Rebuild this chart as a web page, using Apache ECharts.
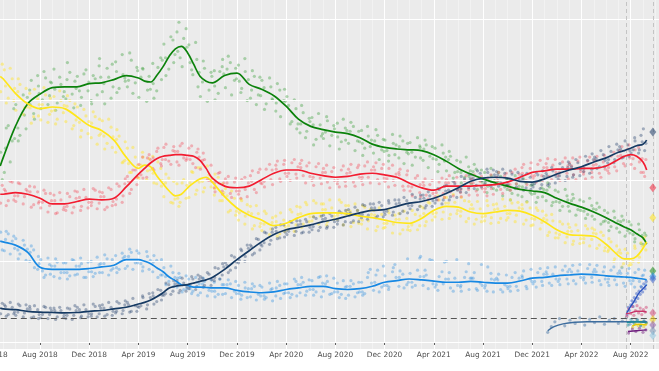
<!DOCTYPE html>
<html><head><meta charset="utf-8">
<script src="https://cdn.jsdelivr.net/npm/echarts@6/dist/echarts.min.js"></script>
<style>html,body{margin:0;padding:0;background:#fff}#c{width:659px;height:371px}</style>
</head><body><div id="c"></div>
<script>
// ---------- poll dates, batch 1 (shared by the five main parties) ----------
const pollDates = [
'2018-04-25','2018-04-29',
'2018-05-04','2018-05-14','2018-05-24','2018-06-02','2018-06-12','2018-06-23','2018-07-06','2018-07-16','2018-07-26','2018-08-03','2018-08-15','2018-08-25',
'2018-09-05','2018-09-13','2018-09-22','2018-10-04','2018-10-14','2018-10-24','2018-11-02','2018-11-12','2018-11-23','2018-12-06','2018-12-16','2018-12-26',
'2019-01-03','2019-01-15','2019-01-25','2019-02-05','2019-02-13','2019-02-22','2019-03-04','2019-03-14','2019-03-24','2019-04-02','2019-04-12','2019-04-23',
'2019-05-06','2019-05-16','2019-05-26','2019-06-03','2019-06-15','2019-06-25','2019-07-05','2019-07-13','2019-07-22','2019-08-04','2019-08-14','2019-08-24',
'2019-09-02','2019-09-12','2019-09-23','2019-10-06','2019-10-16','2019-10-26','2019-11-03','2019-11-15','2019-11-25','2019-12-05','2019-12-13','2019-12-22',
'2020-01-04','2020-01-14','2020-01-24','2020-02-02','2020-02-12','2020-02-23','2020-03-06','2020-03-16','2020-03-26','2020-04-03','2020-04-15','2020-04-25',
'2020-05-05','2020-05-13','2020-05-22','2020-06-04','2020-06-14','2020-06-24','2020-07-02','2020-07-12','2020-07-23','2020-08-06','2020-08-16','2020-08-26',
'2020-09-03','2020-09-15','2020-09-25','2020-10-05','2020-10-13','2020-10-22','2020-11-04','2020-11-14','2020-11-24','2020-12-02','2020-12-12','2020-12-23',
'2021-01-06','2021-01-16','2021-01-26','2021-02-03','2021-02-15','2021-02-25','2021-03-05','2021-03-13','2021-03-22','2021-04-04','2021-04-14','2021-04-24',
'2021-05-02','2021-05-12','2021-05-23','2021-06-06','2021-06-16','2021-06-26','2021-07-03','2021-07-15','2021-07-25','2021-08-05','2021-08-13','2021-08-22',
'2021-09-04','2021-09-14','2021-09-24','2021-10-02','2021-10-12','2021-10-23','2021-11-06','2021-11-16','2021-11-26','2021-12-03','2021-12-15','2021-12-25',
'2022-01-05','2022-01-13','2022-01-22','2022-02-04','2022-02-14','2022-02-24','2022-03-02','2022-03-12','2022-03-23','2022-04-06','2022-04-16','2022-04-26',
'2022-05-03','2022-05-15','2022-05-25','2022-06-05','2022-06-13','2022-06-22','2022-07-04','2022-07-14','2022-07-24','2022-08-02','2022-08-12','2022-08-23',
'2022-09-02','2022-09-08'];

const legaPolls = [23.5,20.1,
21.0,26.8,24.9, 29.4,25.6,28.1, 31.2,28.3,33.0, 28.9,32.7,30.5, 33.8,29.6,31.9, 30.1,33.4,29.0, 32.9,30.3,33.7, 29.9,32.6,34.2,
31.0,33.9,30.2, 34.7,31.4,33.1, 31.6,34.9,32.1, 30.3,33.8,31.2, 34.5,31.1,35.2, 36.9,33.8,37.4, 38.4,35.2,37.6, 36.8,33.1,35.0,
30.4,33.9,31.2, 33.6,30.8,34.1, 31.5,34.6,32.4, 34.3,31.4,33.5,
30.2,32.9,30.6, 32.4,29.5,31.6, 28.6,31.2,29.9, 30.4,27.3,28.9, 25.9,28.4,26.1, 27.8,25.1,26.9, 25.2,27.4,25.6, 27.1,24.8,26.5,
24.6,26.7,24.9, 26.2,24.0,25.5, 23.4,25.6,23.8, 25.0,23.1,24.6,
22.8,24.9,23.5, 24.7,22.9,24.3, 22.5,24.4,23.0, 24.0,22.0,23.4, 21.2,23.0,21.0, 22.3,20.4,21.7, 19.6,21.4,20.0, 21.0,19.3,20.6,
18.8,20.5,19.2, 20.1,18.4,19.6, 18.0,19.7,18.5, 19.5,17.9,19.1,
17.5,19.2,17.3, 18.6,16.8,18.1, 16.2,17.8,16.4, 17.4,15.8,16.9, 15.2,16.7,14.9, 16.0,14.3,15.4, 13.6,15.1,13.8, 14.5,12.8,13.9,
12.1,13.2];

const m5sPolls = [31.0,34.4,
33.7,30.2,32.6, 28.7,31.9,29.0, 30.8,27.9,30.1, 27.5,30.6,28.2, 30.4,27.6,29.9, 27.3,29.9,26.8, 29.1,26.2,28.0, 25.3,27.9,25.6,
27.4,24.6,26.6, 23.5,25.5,22.3, 24.0,21.0,22.9, 20.3,22.9,21.2, 23.0,19.6,21.5, 18.0,20.3,17.2, 19.6,17.3,20.1, 17.9,21.0,18.8,
21.6,19.1,20.7, 18.2,20.4,17.5, 19.0,16.3,17.8, 15.1,17.5,15.6,
16.8,14.4,15.9, 13.8,15.9,14.0, 15.6,13.4,15.1, 13.9,16.1,14.5, 16.7,14.6,17.0, 15.0,17.2,15.6, 17.1,14.9,16.6, 15.2,17.3,15.8,
16.9,14.8,16.3, 14.6,16.7,15.0, 16.3,14.3,15.8, 14.2,16.0,14.6,
15.9,13.9,15.3, 13.8,15.8,14.4, 16.6,14.9,17.2, 15.5,17.6,16.1, 17.9,15.8,17.3, 15.6,17.5,15.3, 17.0,15.2,16.5, 15.0,16.9,15.4,
17.1,15.3,16.8, 15.4,17.2,15.7, 17.0,15.1,16.6, 14.5,16.3,14.8,
15.7,13.6,15.0, 12.9,14.6,13.0, 14.2,12.5,13.8, 12.3,14.0,12.7, 13.9,12.0,13.2, 11.2,12.4,10.3, 11.4,9.7,11.0, 9.6,11.6,10.5,
12.8,11.4];

const pdPolls = [17.2,19.4,
18.9,17.5,19.8, 17.4,19.6,18.0, 19.3,17.0,18.6, 16.6,18.4,16.9, 18.2,16.0,17.6, 16.3,18.0,16.7, 18.6,16.8,17.9, 16.9,18.8,17.2,
18.5,16.7,18.9, 17.0,19.3,18.1, 20.5,18.9,21.3, 22.0,20.3,22.8, 21.5,23.6,22.1, 24.1,22.4,23.7, 22.3,24.3,22.8, 24.0,22.1,23.5,
21.4,22.6,20.0, 19.1,20.9,18.7, 20.2,18.4,19.8, 18.3,20.1,18.9,
20.6,18.9,21.0, 19.6,21.4,20.1, 21.9,20.2,22.0, 20.5,22.2,20.8, 22.1,20.6,21.8, 20.0,21.7,20.3, 21.5,19.8,21.1, 19.6,21.3,19.9,
21.4,19.8,21.6, 20.0,21.8,20.4, 21.7,20.1,21.5, 19.9,21.5,20.0,
21.0,19.3,20.7, 18.7,20.3,18.5, 19.8,18.2,19.5, 18.0,19.8,18.4, 20.1,18.6,19.8, 18.5,20.0,18.9, 20.2,18.7,19.9, 18.6,20.3,19.0,
20.4,18.9,20.6, 19.2,21.0,19.6, 21.6,20.0,21.5, 20.3,22.0,20.6,
22.1,20.5,21.9, 20.6,22.3,20.9, 22.2,20.7,22.4, 20.8,22.4,21.0, 22.5,20.9,22.3, 21.2,23.0,21.7, 23.7,22.1,23.9, 22.0,23.8,22.3,
21.0,22.6];

const fiPolls = [13.6,11.4,
11.3,13.4,12.5, 12.8,10.9,12.0, 10.0,11.4,9.0, 10.2,8.3,9.6, 8.1,9.9,8.6, 9.8,8.2,10.1, 8.4,9.7,8.0, 10.0,8.5,9.6,
8.6,10.3,8.9, 10.7,9.0,10.4, 9.4,11.1,9.8, 11.0,9.3,10.6, 8.7,10.1,8.3, 9.2,7.5,8.6, 6.8,8.0,6.5, 7.8,6.3,7.4,
6.1,7.5,6.4, 7.4,5.9,7.1, 6.0,7.2,6.3, 7.0,5.8,6.7,
5.6,6.9,5.9, 6.8,5.5,6.5, 5.7,7.0,6.0, 7.2,5.9,7.5, 6.1,7.4,6.3, 7.6,6.2,8.1, 6.3,7.5,6.0, 7.3,5.9,6.8,
5.8,7.2,6.1, 7.4,6.0,8.6, 6.4,8.9,6.8, 8.2,6.8,9.2,
6.9,8.4,7.1, 8.5,7.0,10.4, 7.0,8.3,10.2, 6.8,8.1,7.2, 10.0,6.7,7.9, 6.8,8.0,9.7, 7.9,6.6,7.3, 6.7,9.3,7.8,
7.9,6.5,7.1, 6.6,8.0,6.9, 8.2,6.9,7.8, 7.2,8.6,7.5,
8.7,7.3,8.4, 7.5,8.9,7.8, 9.0,7.6,8.8, 7.7,9.1,8.0, 9.0,7.6,8.7, 7.4,8.9,7.7, 8.8,7.3,8.5, 7.2,8.6,7.5,
8.3,7.1];

const fdiPolls = [3.5,4.8,
4.6,3.4,4.3, 3.3,4.5,3.6, 4.4,3.1,4.0, 3.0,4.3,3.4, 4.2,3.1,3.9, 2.9,4.1,3.3, 4.3,3.2,4.0, 3.2,4.4,3.5,
4.6,3.4,4.3, 3.6,4.8,3.9, 4.9,3.8,4.5, 4.3,5.5,4.6, 6.1,5.0,6.4, 5.8,7.1,6.3, 7.6,6.4,7.3, 6.6,7.8,6.9,
8.1,7.0,8.4, 7.6,9.1,8.3, 9.8,8.9,10.5, 9.8,11.3,10.6,
12.0,11.0,12.7, 11.9,13.5,12.6, 14.2,12.9,14.5, 13.3,14.8,13.7, 15.0,13.6,14.9, 13.9,15.3,14.2, 15.7,14.3,15.6, 14.6,16.0,14.9,
16.4,15.0,16.3, 15.4,16.9,15.7, 17.1,15.6,16.9, 15.8,17.2,16.1,
17.6,16.2,17.5, 16.5,17.9,16.8, 18.2,16.9,18.1, 17.2,18.9,17.6, 19.4,18.0,19.6, 18.6,20.2,19.1, 20.7,19.4,20.9, 19.6,21.0,19.9,
21.1,19.7,20.9, 19.5,20.8,19.2, 20.6,19.1,20.4, 19.2,20.7,19.5,
20.9,19.6,21.2, 20.2,21.6,20.5, 22.0,20.7,22.2, 21.1,22.5,21.4, 22.9,21.7,23.2, 22.2,23.6,22.6, 24.2,22.9,24.4, 23.4,24.9,23.8,
26.4,24.6];

// ---------- poll dates, batch 2 ----------
const pollDates2 = [
'2018-05-09','2018-05-19','2018-05-28','2018-06-08','2018-06-20','2018-06-27','2018-07-10','2018-07-18','2018-07-28','2018-08-11','2018-08-21','2018-08-27',
'2018-09-09','2018-09-19','2018-09-28','2018-10-08','2018-10-20','2018-10-27','2018-11-10','2018-11-18','2018-11-28','2018-12-11','2018-12-21','2018-12-27',
'2019-01-09','2019-01-19','2019-01-28','2019-02-08','2019-02-20','2019-02-27','2019-03-10','2019-03-18','2019-03-28','2019-04-11','2019-04-21','2019-04-27',
'2019-05-09','2019-05-19','2019-05-28','2019-06-08','2019-06-20','2019-06-27','2019-07-10','2019-07-18','2019-07-28','2019-08-11','2019-08-21','2019-08-27',
'2019-09-09','2019-09-19','2019-09-28','2019-10-08','2019-10-20','2019-10-27','2019-11-10','2019-11-18','2019-11-28','2019-12-11','2019-12-21','2019-12-27',
'2020-01-09','2020-01-19','2020-01-28','2020-02-08','2020-02-20','2020-02-27','2020-03-10','2020-03-18','2020-03-28','2020-04-11','2020-04-21','2020-04-27',
'2020-05-09','2020-05-19','2020-05-28','2020-06-08','2020-06-20','2020-06-27','2020-07-10','2020-07-18','2020-07-28','2020-08-11','2020-08-21','2020-08-27',
'2020-09-09','2020-09-19','2020-09-28','2020-10-08','2020-10-20','2020-10-27','2020-11-10','2020-11-18','2020-11-28','2020-12-11','2020-12-21','2020-12-27',
'2021-01-09','2021-01-19','2021-01-28','2021-02-08','2021-02-20','2021-02-27','2021-03-10','2021-03-18','2021-03-28','2021-04-11','2021-04-21','2021-04-27',
'2021-05-09','2021-05-19','2021-05-28','2021-06-08','2021-06-20','2021-06-27','2021-07-10','2021-07-18','2021-07-28','2021-08-11','2021-08-21','2021-08-27',
'2021-09-09','2021-09-19','2021-09-28','2021-10-08','2021-10-20','2021-10-27','2021-11-10','2021-11-18','2021-11-28','2021-12-11','2021-12-21','2021-12-27',
'2022-01-09','2022-01-19','2022-01-28','2022-02-08','2022-02-20','2022-02-27','2022-03-10','2022-03-18','2022-03-28','2022-04-11','2022-04-21','2022-04-27',
'2022-05-09','2022-05-19','2022-05-28','2022-06-08','2022-06-20','2022-06-27','2022-07-10','2022-07-18','2022-07-28','2022-08-11','2022-08-21','2022-08-27',
'2022-09-05'];

const legaPolls2 = [
26.5,22.3,28.9, 24.9,30.6,26.4, 32.4,27.6,31.7, 33.5,29.4,32.2, 28.7,32.8,30.4, 34.6,30.7,32.3, 29.3,33.2,31.1, 33.0,30.6,35.1,
29.5,32.8,34.4, 30.9,35.6,32.3, 35.8,30.8,34.0, 33.9,29.8,32.9, 30.2,34.0,32.5, 33.0,37.8,34.6, 39.6,34.1,38.8, 33.7,37.1,31.6,
34.8,29.8,33.4, 30.0,33.5,35.0, 35.4,30.6,33.9, 30.9,35.1,29.9,
33.6,29.4,32.8, 28.8,32.7,30.0, 32.0,27.9,31.3, 27.0,30.0,26.4, 29.3,25.3,27.7, 24.4,28.3,25.5, 27.9,24.3,26.8, 23.9,27.6,25.0,
27.2,23.7,26.1, 23.1,26.7,24.2, 26.3,22.6,25.1, 22.4,25.7,23.2,
25.5,22.1,24.6, 21.9,25.3,22.8, 25.0,21.6,24.2, 21.1,24.4,22.4, 23.6,20.3,22.5, 19.7,22.9,20.5, 22.0,18.9,21.3, 18.5,21.5,19.0,
21.0,18.1,20.2, 17.6,20.6,18.2, 20.2,17.4,19.4, 17.3,20.0,18.0,
19.7,16.9,18.8, 16.3,18.9,16.8, 18.3,15.7,17.6, 15.3,17.8,15.6, 17.2,14.6,16.3, 13.8,16.2,14.1, 15.6,13.1,14.9, 12.4,14.6,12.2,
13.5];

const m5sPolls2 = [
29.6,33.9,29.9, 32.6,28.2,31.4, 27.1,31.3,28.0, 31.5,27.2,30.2, 27.0,31.1,28.4, 30.5,26.4,29.5, 25.4,28.8,25.8, 28.5,24.5,27.6,
23.9,27.6,24.1, 26.3,22.2,24.8, 21.0,24.1,20.4, 23.5,20.1,22.7, 19.7,22.3,19.3, 20.8,17.3,19.9, 16.8,19.7,17.8, 21.1,18.3,21.6,
18.6,21.8,19.2, 20.8,17.5,19.6, 16.1,18.7,15.7, 17.7,14.6,17.0,
14.0,16.9,14.3, 16.2,13.3,15.4, 13.1,16.0,13.7, 16.4,13.7,16.8, 14.2,17.3,14.9, 17.5,14.6,17.1, 14.5,17.6,15.2, 17.6,14.5,16.9,
14.3,17.1,14.7, 16.9,14.0,16.4, 13.8,16.6,14.1, 16.4,13.5,15.7,
13.4,16.2,13.9, 16.3,13.9,16.8, 14.4,17.3,15.1, 18.1,15.2,17.9, 15.3,18.3,15.9, 17.9,14.9,17.4, 14.6,17.4,14.9, 17.5,14.7,17.0,
14.8,17.7,15.1, 17.6,14.9,17.3, 14.6,17.3,14.4, 16.6,14.0,16.2,
13.2,15.8,12.9, 14.9,12.3,14.6, 12.1,14.5,12.2, 14.4,11.9,14.1, 11.6,13.6,11.3, 12.8,10.0,11.9, 9.3,11.5,9.5, 11.9,9.9,12.3,
13.0];

const pdPolls2 = [
16.9,19.9,17.6, 19.7,17.1,18.9, 16.7,19.2,17.2, 18.8,16.1,18.4, 15.9,18.5,16.4, 18.4,16.0,18.7, 16.3,18.9,16.6, 19.0,16.5,18.6,
16.4,19.1,16.9, 19.6,17.3,20.2, 18.4,21.3,19.5, 22.9,20.4,23.2, 21.3,24.0,21.8, 24.5,22.0,24.2, 21.9,24.6,22.5, 24.3,21.6,23.9,
23.4,20.1,21.9, 18.6,21.0,18.3, 20.5,17.9,20.3, 17.8,20.4,18.0,
21.2,18.5,21.4, 19.2,22.0,19.5, 22.4,19.9,22.5, 20.0,22.6,20.3, 22.5,19.7,22.2, 19.4,22.1,19.6, 21.9,19.1,21.6, 19.2,21.8,19.3,
22.0,19.3,21.9, 19.5,22.3,19.7, 22.2,19.6,22.0, 19.2,21.9,19.4,
21.4,18.8,21.2, 18.1,20.6,18.0, 20.2,17.7,20.0, 17.6,20.3,17.9, 20.6,18.1,20.4, 18.0,20.6,18.2, 20.7,18.2,20.5, 18.1,20.7,18.3,
21.0,18.4,20.9, 18.8,21.4,19.0, 22.0,19.5,22.2, 19.8,22.5,20.0,
22.7,20.1,22.6, 20.0,22.8,20.2, 22.8,20.1,22.9, 20.2,22.9,20.4, 23.0,20.4,23.1, 20.9,23.5,21.2, 24.2,21.8,24.4, 21.5,24.1,21.0,
20.5];

const fiPolls2 = [
13.7,10.9,13.1, 10.3,12.6,10.1, 11.9,9.2,10.6, 8.0,10.4,8.4, 10.3,7.9,9.8, 7.8,10.2,8.3, 10.4,8.0,9.9, 8.1,10.5,8.6,
10.8,8.3,10.2, 8.6,11.0,9.1, 11.5,9.0,11.3, 8.8,11.2,9.0, 10.7,8.0,10.2, 7.1,9.4,6.9, 8.5,6.2,8.2, 6.0,8.0,5.8,
7.9,5.7,7.7, 5.6,7.8,5.9, 7.7,5.5,7.5, 5.3,7.4,5.5,
7.2,5.2,7.0, 5.3,7.3,5.1, 7.5,5.4,7.2, 5.5,7.8,5.7, 8.0,5.8,7.7, 5.8,8.0,5.6, 8.2,5.9,7.9, 5.5,7.6,5.4,
7.6,5.6,7.4, 5.8,8.0,9.0, 8.3,6.2,9.4, 6.5,8.7,9.6,
8.8,6.7,10.3, 6.8,8.9,10.6, 8.9,6.6,10.1, 6.4,8.7,9.9, 8.6,6.3,10.2, 6.3,8.7,6.5, 8.6,6.4,9.6, 6.3,8.5,6.2,
8.4,6.2,8.3, 6.3,8.6,6.4, 8.8,6.6,9.0, 6.8,9.1,7.0,
9.2,7.0,9.3, 7.1,9.4,7.2, 9.5,7.2,9.6, 7.3,9.6,7.4, 9.5,7.1,9.3, 7.0,9.3,7.1, 9.2,6.9,9.1, 6.8,9.0,6.9,
8.9];

const fdiPolls2 = [
3.2,4.9,3.5, 4.7,3.1,4.6, 3.0,4.5,2.9, 4.4,2.9,4.2, 2.8,4.3,3.0, 4.2,2.8,4.5, 3.0,4.6,3.1, 4.7,3.1,4.5,
3.2,4.9,3.3, 5.0,3.5,5.1, 3.7,5.4,3.8, 5.7,4.1,6.0, 4.7,6.5,5.2, 7.3,5.9,7.6, 6.1,7.9,6.3, 8.1,6.5,8.3,
6.8,8.6,7.0, 9.2,7.8,9.7, 8.6,10.7,9.2, 11.5,10.0,12.0,
10.8,12.8,11.4, 13.6,12.1,14.0, 12.8,14.5,13.0, 14.9,13.2,15.0, 13.5,15.2,13.6, 15.5,13.8,15.6, 14.1,15.9,14.2, 16.2,14.5,16.3,
14.8,16.7,14.9, 17.0,15.2,17.1, 15.4,17.3,15.5, 17.5,15.7,17.6,
15.9,17.9,16.0, 18.3,16.4,18.2, 16.6,18.6,16.8, 19.0,17.1,19.3, 17.6,19.9,17.9, 20.5,18.5,20.8, 19.0,21.2,19.2, 21.4,19.3,21.3,
19.3,21.4,19.4, 21.2,19.0,21.0, 18.8,20.9,18.9, 21.0,19.0,21.2,
19.4,21.6,19.7, 22.1,20.0,22.3, 20.4,22.6,20.6, 23.0,20.9,23.3, 21.5,23.7,21.7, 24.2,22.2,24.5, 22.8,24.9,23.0, 25.3,23.4,25.6,
23.7];

// ---------- poll dates, batch 3 ----------
const pollDates3 = [
'2018-05-07','2018-05-30','2018-06-07','2018-06-30','2018-07-07','2018-07-30','2018-08-07','2018-08-30','2018-09-07','2018-09-30','2018-10-07','2018-10-30','2018-11-07','2018-11-30','2018-12-07','2018-12-30',
'2019-01-07','2019-01-30','2019-02-07','2019-02-26','2019-03-07','2019-03-30','2019-04-07','2019-04-30','2019-05-07','2019-05-30','2019-06-07','2019-06-30',
'2019-07-07','2019-07-30','2019-08-07','2019-08-30','2019-09-07','2019-09-30','2019-10-07','2019-10-30','2019-11-07','2019-11-30','2019-12-07','2019-12-30',
'2020-01-07','2020-01-30','2020-02-07','2020-02-26','2020-03-07','2020-03-30','2020-04-07','2020-04-30','2020-05-07','2020-05-30','2020-06-07','2020-06-30',
'2020-07-07','2020-07-30','2020-08-07','2020-08-30','2020-09-07','2020-09-30','2020-10-07','2020-10-30','2020-11-07','2020-11-30','2020-12-07','2020-12-30',
'2021-01-07','2021-01-30','2021-02-07','2021-02-26','2021-03-07','2021-03-30','2021-04-07','2021-04-30','2021-05-07','2021-05-30','2021-06-07','2021-06-30',
'2021-07-07','2021-07-30','2021-08-07','2021-08-30','2021-09-07','2021-09-30','2021-10-07','2021-10-30','2021-11-07','2021-11-30','2021-12-07','2021-12-30',
'2022-01-07','2022-01-30','2022-02-07','2022-02-26','2022-03-07','2022-03-30','2022-04-07','2022-04-30','2022-05-07','2022-05-30','2022-06-07','2022-06-30',
'2022-07-07','2022-07-30','2022-08-07','2022-08-30'];

const legaPolls3 = [24.0,25.2, 26.5,30.3, 29.4,30.8, 30.0,32.1, 31.3,31.0, 32.5,31.4, 31.1,32.2, 29.5,32.8,
32.0,31.6, 33.5,32.7, 32.4,33.6, 32.8,31.3, 32.0,34.9, 35.2,35.6, 36.0,36.5, 34.6,33.4, 32.2,32.9, 31.7,33.2, 33.8,32.6, 32.3,32.5,
31.2,30.5, 31.5,30.1, 29.6,29.8, 29.3,27.0, 27.0,27.3, 26.9,25.8, 26.0,26.4, 25.4,26.2, 26.1,24.8, 24.6,25.0, 24.9,23.6, 23.7,24.4,
24.2,23.3, 23.5,24.1, 23.9,22.7, 22.6,22.9, 22.6,21.1, 21.0,21.2, 21.1,19.8, 19.7,20.0, 19.9,18.9, 18.8,19.3, 19.2,18.3, 18.4,18.9,
18.8,17.4, 17.3,17.6, 17.5,16.3, 16.2,16.5, 16.4,15.0, 14.8,15.0, 14.9,13.5, 13.3,13.2];

const m5sPolls3 = [31.7,31.4, 31.0,29.1, 29.0,29.4, 29.4,28.6, 28.7,29.3, 29.2,27.5, 27.2,27.3, 27.1,25.8,
25.5,25.4, 25.1,22.5, 22.1,21.9, 21.9,21.3, 20.9,20.0, 19.7,17.7, 17.8,19.4, 19.7,19.8, 19.9,20.3, 19.0,18.5, 18.1,16.2, 16.0,16.1,
15.9,14.7, 14.6,14.8, 14.9,14.3, 14.4,15.8, 15.9,15.5, 15.5,16.4, 16.4,15.6, 15.7,16.3, 16.2,15.2, 15.1,15.8, 15.7,14.7, 14.7,15.2,
15.2,14.3, 14.5,15.6, 15.9,15.9, 16.0,17.2, 17.2,16.3, 16.2,16.5, 16.5,15.5, 15.6,16.4, 16.5,15.9, 15.9,16.6, 16.5,15.3, 15.2,15.3,
15.1,13.5, 13.3,13.7, 13.7,12.8, 12.8,13.5, 13.4,11.7, 11.4,11.1, 11.0,9.9, 10.0,11.9];

const pdPolls3 = [18.7,18.1, 18.1,18.7, 18.6,17.4, 17.3,17.5, 17.5,16.7, 16.8,17.8, 17.9,17.3, 17.3,18.0,
18.0,17.4, 17.7,19.6, 19.9,20.4, 20.7,22.6, 22.8,22.6, 22.6,23.6, 23.6,22.7, 22.6,22.9, 22.5,19.9, 19.7,19.7, 19.7,18.7, 18.7,19.7,
19.9,19.7, 19.9,21.3, 21.4,20.9, 20.9,21.7, 21.6,20.5, 20.4,21.0, 21.0,20.0, 20.0,20.9, 21.0,20.4, 20.4,21.3, 21.3,20.3, 20.2,20.8,
20.7,19.3, 19.2,19.5, 19.4,18.4, 18.5,19.7, 19.7,18.9, 18.9,19.7, 19.7,19.0, 19.0,19.9, 20.0,19.4, 19.5,20.8, 20.9,20.6, 20.6,21.6,
21.6,21.0, 21.0,21.8, 21.8,21.1, 21.1,21.9, 22.0,21.4, 21.6,23.0, 23.1,22.8, 22.7,22.7];

const fiPolls3 = [12.7,11.6, 11.4,11.5, 11.1,9.7, 8.8,9.4, 9.4,8.6, 8.6,9.4, 9.4,8.7, 8.7,9.7,
9.7,9.1, 9.2,10.6, 10.6,9.8, 9.7,10.1, 9.9,8.3, 8.1,8.0, 7.9,6.6, 6.6,7.2, 7.2,6.3, 6.3,7.1, 7.1,6.0, 6.0,6.6,
6.6,5.7, 5.7,6.6, 6.7,6.1, 6.1,7.1, 7.1,6.5, 6.5,7.3, 7.2,6.2, 6.2,6.9, 6.9,6.2, 6.2,7.3, 7.4,7.0, 7.0,8.0,
8.0,7.4, 7.4,8.1, 8.1,7.2, 7.1,7.8, 7.8,7.0, 7.0,7.9, 7.9,7.0, 7.0,7.7, 7.7,6.9, 6.9,7.9, 8.0,7.5, 7.5,8.4,
8.4,7.8, 7.8,8.7, 8.7,8.0, 8.0,8.7, 8.7,7.8, 7.8,8.5, 8.5,7.6, 7.6,8.2];

const fdiPolls3 = [4.4,3.7, 3.7,4.1, 4.1,3.4, 3.4,3.9, 3.9,3.3, 3.3,3.9, 4.0,3.5, 3.5,4.2,
4.2,3.8, 3.8,4.6, 4.6,4.4, 4.5,5.5, 5.7,5.8, 6.0,7.2, 7.2,6.8, 6.9,7.8, 7.9,7.7, 8.0,9.3, 9.5,9.9, 10.1,11.6,
11.8,12.1, 12.3,13.6, 13.7,13.6, 13.7,14.5, 14.6,14.2, 14.3,15.2, 15.3,14.9, 15.0,15.9, 16.0,15.7, 15.8,16.6, 16.6,16.1, 16.2,17.1,
17.2,16.9, 16.9,17.7, 17.8,17.5, 17.6,18.7, 18.8,18.8, 19.0,20.2, 20.3,20.0, 20.0,20.7, 20.7,20.0, 20.0,20.2, 20.2,19.5, 19.6,20.5,
20.6,20.5, 20.6,21.6, 21.7,21.4, 21.5,22.6, 22.7,22.5, 22.6,23.8, 23.9,23.7, 23.8,24.8];

// ---------- smoothed trends (shared dates) ----------
const trendDates = ['2018-04-24','2018-05-01','2018-06-01','2018-07-01','2018-08-01','2018-09-01','2018-10-01','2018-11-01','2018-12-01',
'2019-01-01','2019-02-01','2019-03-01','2019-04-01','2019-04-16','2019-05-01','2019-05-16','2019-06-01','2019-06-16','2019-07-01','2019-07-16',
'2019-08-01','2019-08-16','2019-09-01','2019-09-16','2019-10-01','2019-11-01','2019-12-01',
'2020-01-01','2020-02-01','2020-03-01','2020-04-01','2020-05-01','2020-06-01','2020-07-01','2020-08-01','2020-09-01','2020-10-01','2020-11-01','2020-12-01',
'2021-01-01','2021-02-01','2021-03-01','2021-04-01','2021-05-01','2021-06-01','2021-07-01','2021-08-01','2021-09-01','2021-10-01','2021-11-01','2021-12-01',
'2022-01-01','2022-02-01','2022-03-01','2022-04-01','2022-05-01','2022-06-01','2022-07-01','2022-07-16','2022-08-01','2022-08-16','2022-09-01','2022-09-10'];
const legaTrend = [21.8,22.8,26.7,29.5,30.7,31.5,31.6,31.6,32.0, 32.1,32.5,33.0,32.7,32.3,32.2,33.0,34.1,35.4,36.3,36.6, 35.8,34.4,32.9,32.3,32.1,33.0,33.3,
31.9,31.3,30.5,29.2,27.6,26.7,26.3,26.0,25.8,25.3,24.5,24.1, 23.9,23.8,23.7,23.2,22.4,21.5,20.8,20.2,19.7,19.3,18.9,18.7,
18.5,17.8,17.2,16.7,16.1,15.4,14.6,14.25,13.9,13.4,12.9,12.1];
const m5sTrend = [32.9,32.6,30.8,29.5,28.9,29.1,28.9,27.9,26.8, 26.2,25.0,22.9,21.5,21.9,21.7,20.6,19.6,18.7,18.1,18.3, 19.1,19.7,20.2,20.4,19.8,18.0,16.6,
15.7,15.1,14.4,14.7,15.4,15.9,16.0,16.0,15.9,15.6,15.4,15.1, 14.8,14.7,15.3,16.3,16.8,16.7,16.1,15.9,16.1,16.3,16.2,15.7,
14.9,13.9,13.3,13.2,13.1,12.1,10.7,10.3,10.3,10.6,11.6,12.4];
const pdTrend = [18.3,18.3,18.5,18.3,17.8,17.1,17.1,17.4,17.7, 17.6,17.8,19.2,20.8,21.5,22.2,22.7,23.0,23.1,23.2,23.2, 23.1,23.0,22.5,21.5,20.3,19.3,19.1,
19.3,20.1,20.9,21.3,21.3,20.9,20.6,20.4,20.5,20.8,20.9,20.7, 20.4,19.7,19.1,18.8,19.3,19.3,19.3,19.4,19.5,19.8,20.4,21.0,
21.2,21.4,21.4,21.5,21.5,21.8,22.6,23.0,23.2,23.0,22.3,21.3];
const fiTrend = [12.5,12.4,12.0,11.1,9.25,9.0,9.0,9.0,9.1, 9.3,9.5,10.2,10.2,10.0,9.7,9.2,8.7,8.05,7.6,7.1, 7.0,6.8,6.8,6.75,6.7,6.7,6.4,
6.2,6.1,6.2,6.5,6.7,6.9,6.9,6.6,6.5,6.6,6.9,7.4, 7.6,7.8,7.7,7.55,7.4,7.4,7.5,7.4,7.3,7.3,7.55,7.9,
8.0,8.2,8.3,8.4,8.35,8.2,8.1,8.05,8.0,7.9,7.8,7.7];
const fdiTrend = [4.2,4.1,4.0,3.8,3.7,3.65,3.6,3.65,3.8, 3.9,4.1,4.3,4.7,4.9,5.2,5.6,6.1,6.7,6.9,7.0, 7.1,7.3,7.5,7.7,8.0,9.0,10.2,
11.3,12.4,13.3,13.9,14.2,14.5,14.9,15.2,15.6,16.0,16.3,16.4, 16.8,17.2,17.4,17.8,18.4,19.1,19.9,20.3,20.4,20.3,19.9,19.8,
20.2,20.8,21.3,21.7,22.3,22.8,23.5,23.7,24.0,24.3,24.5,25.0];

// ---------- smaller lists ----------
const italexitDates = ['2022-01-09','2022-01-18','2022-01-27','2022-02-07','2022-02-19','2022-03-03','2022-03-16','2022-03-28','2022-04-09','2022-04-21','2022-05-03','2022-05-16','2022-05-28','2022-06-09','2022-06-21','2022-07-01','2022-07-11','2022-07-21','2022-07-30','2022-08-08','2022-08-17','2022-08-26','2022-09-04','2022-09-09'];
const italexitPolls = [1.2,1.9,2.5,2.9,2.0,2.7,2.3,3.0,2.1,2.8,2.4,3.1,2.2,2.7,2.9,2.3,2.6,3.0,2.2,2.5,2.8,2.1,2.6,2.4];
const italexitTrendDates = ['2022-01-09','2022-01-25','2022-02-15','2022-03-15','2022-04-15','2022-06-01','2022-08-01','2022-09-10'];
const italexitTrend = [1.4,1.9,2.25,2.45,2.5,2.5,2.5,2.5];

const azivDates = ['2022-07-23','2022-07-26','2022-07-29','2022-08-01','2022-08-04','2022-08-07','2022-08-10','2022-08-13','2022-08-16','2022-08-19','2022-08-22','2022-08-25','2022-08-28','2022-08-31','2022-09-03','2022-09-06','2022-09-09'];
const azivPolls = [3.4,4.3,3.9,4.6,5.1,4.4,5.5,5.0,6.0,5.4,6.3,5.9,6.8,6.2,7.2,6.6,7.5];
const azivTrendDates = ['2022-07-22','2022-08-01','2022-08-09','2022-08-16','2022-08-24','2022-09-01','2022-09-10'];
const azivTrend = [3.6,4.4,5.0,5.6,6.2,6.6,7.1];

const avsDates = ['2022-07-22','2022-07-27','2022-08-01','2022-08-05','2022-08-09','2022-08-13','2022-08-17','2022-08-21','2022-08-25','2022-08-29','2022-09-02','2022-09-06','2022-09-09'];
const avsPolls = [3.2,4.1,3.5,4.4,3.3,3.9,4.5,3.6,4.2,3.4,4.0,3.7,4.3];
const avsTrendDates = ['2022-07-20','2022-08-01','2022-08-16','2022-09-01','2022-09-10'];
const avsTrend = [3.5,3.6,3.8,3.8,3.7];

const icDates = ['2022-07-25','2022-08-02','2022-08-10','2022-08-18','2022-08-26','2022-09-03','2022-09-09'];
const icPolls = [2.1,2.8,2.3,2.7,2.0,2.6,2.4];
const icTrendDates = ['2022-07-22','2022-08-16','2022-09-10'];
const icTrend = [2.4,2.5,2.4];

const peDates = ['2022-08-06','2022-08-13','2022-08-20','2022-08-27','2022-09-03','2022-09-09'];
const pePolls = [1.8,2.4,2.0,2.5,1.9,2.3];
const peTrendDates = ['2022-08-05','2022-08-20','2022-09-10'];
const peTrend = [2.0,2.2,2.1];

const upDates = ['2022-07-27','2022-08-05','2022-08-14','2022-08-23','2022-09-01','2022-09-08'];
const upPolls = [1.1,1.6,1.3,1.7,1.2,1.5];
const upTrendDates = ['2022-07-25','2022-08-16','2022-09-10'];
const upTrend = [1.3,1.4,1.5];

// ---------- election result (25 Sep 2022) ----------
const electionDate = '2022-09-25';
const resultNames = ['FdI','PD','M5S','Lega','FI','Az-IV','AVS','+Eu','Italexit','UP','NM'];
const resultValues = [26.0,19.1,15.4,8.8,8.1,7.8,3.6,2.8,2.1,1.4,0.8];
const resultColors = ['#1b3b66','#f0243a','#ffe31a','#1a8a1a','#1a8ae3','#3a5fc8','#d24a78','#f2d21a','#8e5ba8','#7c93b5','#8ec5e0'];

const threshold = 3;
const campaignStart = '2022-07-21';
const yTicks = [0,10,20,30,40];

// ---------- helpers ----------
function M(s){const p=s.split('-').map(Number);const dim=new Date(p[0],p[1],0).getDate();return (p[0]-2018)*12+p[1]+(p[2]-1)/dim;}
function pts(d,v){return d.map((x,i)=>[M(x),v[i]]);}
const MON=['Jan','Feb','Mar','Apr','May','Jun','Jul','Aug','Sep','Oct','Nov','Dec'];

function cloud(name,data,color,op){return {name,type:'scatter',data,symbol:'circle',symbolSize:3.2,
  itemStyle:{color,opacity:op},silent:true,z:3,animation:false};}
function trend(name,d,v,color,w){return {name,type:'line',data:pts(d,v),smooth:0.35,showSymbol:false,symbol:'none',
  lineStyle:{color,width:w||1.7},silent:true,z:5,animation:false};}
function all3(v1,v2,v3){return pts(pollDates,v1).concat(pts(pollDates2,v2),pts(pollDates3,v3));}

const series = [
  {type:'line',data:[[4,-5],[5,-5]],showSymbol:false,lineStyle:{opacity:0},silent:true,z:1,animation:false,
    markLine:{silent:true,symbol:'none',label:{show:false},animation:false,
      lineStyle:{color:'#ffffff',width:1,type:'solid'},
      data:yTicks.map(v=>({yAxis:v}))}},
  {type:'line',data:[[4,-5],[5,-5]],showSymbol:false,lineStyle:{opacity:0},silent:true,z:2,animation:false,
    markLine:{silent:true,symbol:'none',label:{show:false},animation:false,
      lineStyle:{color:'#c4c4c4',width:1,type:[4,3]},
      data:[{xAxis:M(campaignStart)},{xAxis:M(electionDate)}]}},
  cloud('Lega',all3(legaPolls,legaPolls2,legaPolls3),'#3f9f3f',0.4),
  cloud('M5S',all3(m5sPolls,m5sPolls2,m5sPolls3),'#ffe63a',0.5),
  cloud('PD',all3(pdPolls,pdPolls2,pdPolls3),'#f2505f',0.4),
  cloud('FI',all3(fiPolls,fiPolls2,fiPolls3),'#3c95e0',0.4),
  cloud('FdI',all3(fdiPolls,fdiPolls2,fdiPolls3),'#2a4670',0.4),
  cloud('Italexit',pts(italexitDates,italexitPolls),'#4d7aa8',0.5),
  cloud('AzIV',pts(azivDates,azivPolls),'#3a5fc8',0.5),
  cloud('AVS',pts(avsDates,avsPolls),'#d24a78',0.5),
  cloud('IC',pts(icDates,icPolls),'#2396a0',0.5),
  cloud('PE',pts(peDates,pePolls),'#e8cc1a',0.5),
  cloud('UP',pts(upDates,upPolls),'#7a2a86',0.5),
  trend('Lega',trendDates,legaTrend,'#0b820b'),
  trend('M5S',trendDates,m5sTrend,'#ffe619'),
  trend('PD',trendDates,pdTrend,'#f21c30'),
  trend('FI',trendDates,fiTrend,'#1788e3'),
  trend('FdI',trendDates,fdiTrend,'#163a63'),
  trend('Italexit',italexitTrendDates,italexitTrend,'#3d6d9e',1.4),
  trend('AzIV',azivTrendDates,azivTrend,'#2a52c0',1.4),
  trend('AVS',avsTrendDates,avsTrend,'#c8356a',1.4),
  trend('IC',icTrendDates,icTrend,'#1e8c9a',1.4),
  trend('PE',peTrendDates,peTrend,'#e6cc00',1.4),
  trend('UP',upTrendDates,upTrend,'#6e1f7e',1.4),
  {type:'line',data:[[4,-5],[5,-5]],showSymbol:false,lineStyle:{opacity:0},silent:true,z:6,animation:false,
    markLine:{silent:true,symbol:'none',label:{show:false},animation:false,
      lineStyle:{color:'#555555',width:1,type:[6,4]},
      data:[{yAxis:threshold}]}},
  {name:'Result',type:'scatter',symbol:'diamond',symbolSize:[7,9],silent:true,z:7,animation:false,
    data:resultValues.map((v,i)=>({value:[M(electionDate),v],itemStyle:{color:resultColors[i],opacity:0.55}}))}
];

const chart = echarts.init(document.getElementById('c'),null,{renderer:'canvas'});
chart.setOption({
  animation:false,
  backgroundColor:'#ffffff',
  grid:{left:-9.2,right:-20.9,top:0,bottom:22,show:true,backgroundColor:'#ebebeb',borderWidth:0,containLabel:false,outerBoundsMode:'none'},
  xAxis:{type:'value',min:4,max:60,interval:4,
    axisLine:{show:false},
    axisTick:{show:true,length:3,lineStyle:{color:'#333333',width:0.8}},
    axisLabel:{show:true,interval:0,hideOverlap:false,showMinLabel:true,showMaxLabel:true,margin:3,fontSize:7.4,color:'#4d4d4d',fontFamily:'DejaVu Sans',
      formatter:v=>{const k=Math.round(v);return MON[(k-1)%12]+' '+(2018+Math.floor((k-1)/12));}},
    splitLine:{show:true,lineStyle:{color:'#ffffff',width:1}},
    minorTick:{show:false,splitNumber:4},
    minorSplitLine:{show:true,lineStyle:{color:'#f6f6f6',width:0.6}}},
  yAxis:{type:'value',min:-0.867,max:42.353,axisLine:{show:false},axisTick:{show:false},axisLabel:{show:false},splitLine:{show:false}},
  series
});
</script></body></html>
